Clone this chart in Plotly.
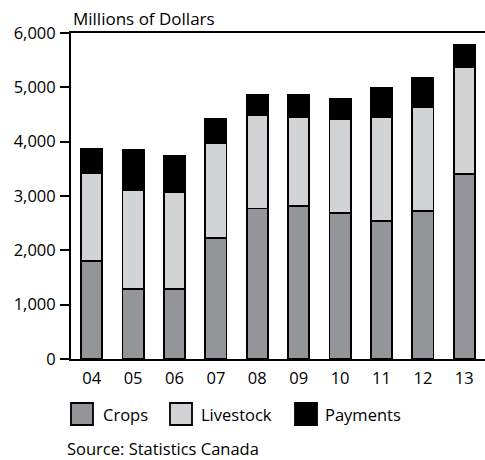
import plotly.graph_objects as go

years = ["04", "05", "06", "07", "08", "09", "10", "11", "12", "13"]
crops = [1810, 1295, 1290, 2225, 2770, 2810, 2690, 2545, 2720, 3410]
livestock = [1610, 1815, 1790, 1740, 1710, 1645, 1725, 1910, 1920, 1965]
payments = [450, 730, 650, 445, 385, 410, 375, 530, 525, 410]
y_ticks = [0, 1000, 2000, 3000, 4000, 5000, 6000]
y_tick_labels = ["0", "1,000", "2,000", "3,000", "4,000", "5,000", "6,000"]

series = [("Crops", crops, "#939598"), ("Livestock", livestock, "#d1d3d4"), ("Payments", payments, "#000000")]

FONT = "Open Sans"
FS = 16.5
fig = go.Figure()
for name, vals, col in series:
    fig.add_trace(go.Bar(x=years, y=vals, name=name, marker=dict(color=col, line=dict(color="#000000", width=1.8)),
                         showlegend=False))

fig.update_layout(
    width=485, height=460,
    margin=dict(l=71, r=0, t=33, b=101),
    barmode="stack", bargap=0.49,
    paper_bgcolor="white", plot_bgcolor="white",
    font=dict(family=FONT, size=FS, color="#000000"),
    xaxis=dict(type="category", showline=True, mirror=True, linecolor="#000000", linewidth=2,
               ticks="", showgrid=False, tickfont=dict(size=FS), ticklabelstandoff=3),
    yaxis=dict(range=[0, 6000], tickvals=y_ticks, ticktext=y_tick_labels, showline=True,
               linecolor="#000000", linewidth=2, ticks="outside", ticklen=9, tickwidth=2,
               tickcolor="#000000", showgrid=False, zeroline=False, tickfont=dict(size=FS),
               ticklabelstandoff=1),
)

fig.add_annotation(text="Millions of Dollars", xref="paper", yref="paper", x=0, y=1, xanchor="left",
                   yanchor="bottom", yshift=1, showarrow=False, font=dict(size=17))

# legend drawn as boxes + labels
legend_items = [("Crops", "#939598", 71, 101), ("Livestock", "#d1d3d4", 170, 199), ("Payments", "#000000", 295, 323)]
for name, col, bx, tx in legend_items:
    fig.add_shape(type="rect", xref="paper", yref="paper",
                  x0=(bx - 71) / 414, x1=(bx + 22 - 71) / 414,
                  y0=(359 - 425) / 326, y1=(359 - 403) / 326,
                  fillcolor=col, line=dict(color="#000000", width=1.8))
    fig.add_annotation(text=name, xref="paper", yref="paper", x=(tx - 71) / 414, y=(359 - 414) / 326,
                       xanchor="left", yanchor="middle", showarrow=False, font=dict(size=FS))

fig.add_annotation(text="Source: Statistics Canada", xref="paper", yref="paper", x=(65 - 71) / 414,
                   y=(359 - 448) / 326, xanchor="left", yanchor="middle", showarrow=False, font=dict(size=FS))

fig.write_html("out.html", config={"displayModeBar": False},
               post_script="document.body.style.margin='0';document.body.style.overflow='hidden';")
